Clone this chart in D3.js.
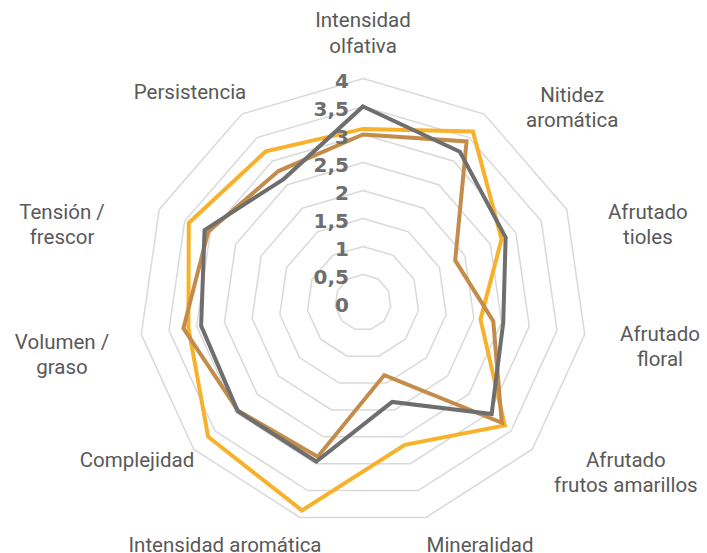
<!DOCTYPE html>
<html>
<head>
<meta charset="utf-8">
<script src="https://cdn.jsdelivr.net/npm/d3@7"></script>
<style>
  html, body { margin: 0; padding: 0; background: #fff; }
  svg { display: block; }
</style>
</head>
<body>
<script>
// ejes del radar (en sentido horario, empezando arriba)
const categories = [
  "Intensidad\nolfativa",
  "Nitidez\naromática",
  "Afrutado\ntioles",
  "Afrutado\nfloral",
  "Afrutado\nfrutos amarillos",
  "Mineralidad",
  "Intensidad aromática",
  "Complejidad",
  "Volumen /\ngraso",
  "Tensión /\nfrescor",
  "Persistencia"
];

// valores
const serieGris   = [3.5, 3.2, 2.8, 2.53, 3.04, 1.85, 2.96, 2.96, 2.92, 3.11, 2.62];
const serieOro    = [3.1, 3.63, 2.72, 2.12, 3.35, 2.65, 3.87, 3.66, 3.15, 3.42, 3.21];
const serieMarron = [3.0, 3.42, 1.81, 2.35, 3.28, 1.35, 2.87, 2.95, 3.24, 3.04, 2.79];

const tickValues = [0, 0.5, 1, 1.5, 2, 2.5, 3, 3.5, 4];

function radar() {
  const width = 707, height = 553;
  const cx = 363, cy = 302.5;

  // desplazamiento de las etiquetas respecto al extremo de cada eje
  const labelNudge = [
    [0, -33.5], [81.6, 3.5], [70.2, 20], [63.4, 10.4], [84.5, 15.4], [50.5, 16],
    [-71.5, 16], [-47.7, 3], [-67.4, 18.4], [-86.3, 20], [-45.4, -12]
  ];

  const r = d3.scaleLinear().domain([0, 4]).range([0, 224]);
  const angle = d3.scaleLinear().domain([0, categories.length]).range([0, 2 * Math.PI]);

  const svg = d3.select("body").append("svg")
    .attr("width", width)
    .attr("height", height);

  const g = svg.append("g").attr("transform", "translate(" + cx + "," + cy + ")");

  const radial = d3.lineRadial()
    .angle((d, i) => angle(i))
    .radius(d => r(d))
    .curve(d3.curveLinearClosed);

  // anillos de la rejilla
  g.selectAll(".ring")
    .data(tickValues.filter(v => v > 0))
    .enter()
    .append("path")
    .attr("class", "ring")
    .attr("d", v => radial(categories.map(() => v)))
    .attr("fill", "none")
    .attr("stroke", "#d9d9d9")
    .attr("stroke-width", 1.5);

  // series
  const series = [
    { values: serieOro, color: "#f8b12a" },
    { values: serieMarron, color: "#c48c4a" },
    { values: serieGris, color: "#6e6e6e" }
  ];

  g.selectAll(".serie")
    .data(series)
    .enter()
    .append("path")
    .attr("class", "serie")
    .attr("d", s => radial(s.values))
    .attr("fill", "none")
    .attr("stroke", s => s.color)
    .attr("stroke-width", 4)
    .attr("stroke-linejoin", "miter");

  // etiquetas del eje de valores
  g.selectAll(".tick")
    .data(tickValues)
    .enter()
    .append("text")
    .attr("class", "tick")
    .attr("x", -14)
    .attr("y", v => -r(v) + 2)
    .attr("text-anchor", "end")
    .attr("dominant-baseline", "central")
    .attr("font-family", "'DejaVu Sans', sans-serif")
    .attr("font-weight", "bold")
    .attr("font-size", "20px")
    .attr("fill", "#6e6e6e")
    .text(v => String(v).replace(".", ","));

  // etiquetas de categorías
  const lh = 25.5;
  const labels = g.selectAll(".cat")
    .data(categories)
    .enter()
    .append("text")
    .attr("class", "cat")
    .attr("text-anchor", "middle")
    .attr("font-family", "Roboto, sans-serif")
    .attr("font-size", "20.5px")
    .attr("fill", "#595959")
    .attr("transform", (d, i) => {
      const a = angle(i), rr = r(4) + 12;
      const x = rr * Math.sin(a) + labelNudge[i][0];
      const y = -rr * Math.cos(a) + labelNudge[i][1];
      return "translate(" + x + "," + y + ")";
    });

  labels.each(function (d) {
    const lines = d.split("\n");
    const t = d3.select(this);
    lines.forEach((line, k) => {
      t.append("tspan")
        .attr("x", 0)
        .attr("y", (k - (lines.length - 1) / 2) * lh)
        .attr("dominant-baseline", "central")
        .text(line);
    });
  });
}

window.addEventListener("load", radar);
</script>
</body>
</html>
